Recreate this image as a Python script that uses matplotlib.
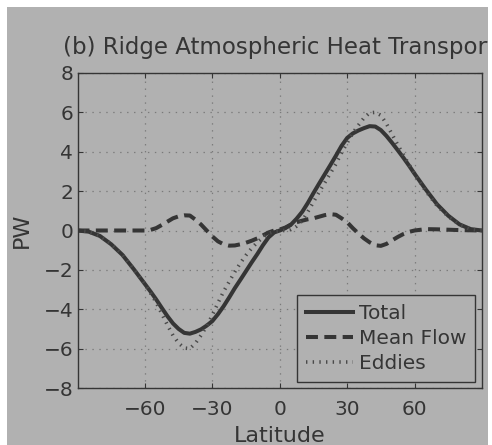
import matplotlib
matplotlib.use("Agg")
import matplotlib.pyplot as plt
from matplotlib.patches import Rectangle

# latitude (deg) and heat transport (PW)
lat = [-90, -85, -80, -75, -70, -65,
       -60, -57.5, -55, -52.5, -50, -47.5, -45, -42.5, -40, -37.5, -35, -32.5, -30, -27.5,
       -25, -22.5, -20, -17.5, -15, -12.5, -10, -7.5, -5, -2.5, 0,
       2.5, 5, 7.5, 10, 12.5, 15, 17.5, 20, 22.5, 25, 27.5, 30, 32.5, 35, 37.5,
       40, 42.5, 45, 47.5, 50, 52.5, 55, 57.5, 60,
       65, 70, 75, 80, 85, 90]

total = [0.0, -0.06, -0.28, -0.7, -1.24, -1.96,
         -2.72, -3.1, -3.5, -3.93, -4.35, -4.72, -5.0, -5.2, -5.24, -5.15, -5.02, -4.83, -4.6, -4.25,
         -3.85, -3.4, -2.93, -2.5, -2.06, -1.62, -1.2, -0.75, -0.35, -0.1, 0.0,
         0.12, 0.3, 0.6, 0.95, 1.4, 1.9, 2.38, 2.85, 3.32, 3.8, 4.3, 4.7, 4.93, 5.08, 5.2,
         5.3, 5.28, 5.1, 4.8, 4.45, 4.08, 3.7, 3.3, 2.88,
         2.08, 1.33, 0.75, 0.31, 0.07, 0.0]

mean_flow = [0.0, 0.0, 0.0, 0.0, 0.0, 0.0,
             0.0, 0.03, 0.12, 0.28, 0.45, 0.62, 0.72, 0.77, 0.76, 0.55, 0.3, 0.0, -0.3, -0.55,
             -0.7, -0.77, -0.76, -0.7, -0.62, -0.52, -0.4, -0.25, -0.1, 0.0, 0.05,
             0.15, 0.3, 0.42, 0.5, 0.57, 0.62, 0.7, 0.78, 0.83, 0.8, 0.62, 0.42, 0.12, -0.15, -0.4,
             -0.6, -0.75, -0.78, -0.68, -0.5, -0.33, -0.18, -0.07, 0.0,
             0.07, 0.06, 0.04, 0.02, 0.01, 0.0]

eddies = [0.0, -0.06, -0.28, -0.7, -1.24, -1.96,
          -2.72, -3.18, -3.65, -4.22, -4.8, -5.33, -5.72, -5.97, -6.0, -5.72, -5.32, -4.85, -4.3, -3.68,
          -3.1, -2.6, -2.1, -1.65, -1.25, -0.9, -0.6, -0.35, -0.15, -0.05, 0.0,
          0.0, 0.05, 0.22, 0.5, 0.95, 1.45, 1.95, 2.42, 2.9, 3.38, 3.95, 4.45, 4.95, 5.35, 5.72,
          5.98, 6.0, 5.85, 5.42, 4.88, 4.35, 3.85, 3.35, 2.88,
          2.0, 1.26, 0.71, 0.29, 0.06, 0.0]

xticks = [-60, -30, 0, 30, 60]
yticks = [-8, -6, -4, -2, 0, 2, 4, 6, 8]

BG = "#b1b1b1"
INK = "#353535"

plt.rcParams["font.family"] = ["DejaVu Sans"]
plt.rcParams["lines.scale_dashes"] = False

fig = plt.figure(figsize=(4.92, 4.45), dpi=100, facecolor="white")
# scanned page look: grey panel with white margins
fig.add_artist(Rectangle((7 / 492, 0), 481 / 492, 438 / 445, transform=fig.transFigure,
                         facecolor=BG, edgecolor="none", zorder=-1))

ax = fig.add_axes([77.5 / 492, 57 / 445, 404.5 / 492, 315 / 445])
ax.set_facecolor(BG)

ax.plot(lat, total, color=INK, linewidth=2.9, label="Total", solid_joinstyle="round")
ax.plot(lat, mean_flow, color=INK, linewidth=2.9, dashes=(8.6, 4.6), dash_capstyle="butt",
        label="Mean Flow")
ax.plot(lat, eddies, color="#4a4a4a", linewidth=2.6, dashes=(1.0, 3.8), dash_capstyle="butt",
        label="Eddies")

ax.set_xlim(-90, 90)
ax.set_ylim(-8, 8)
ax.set_xticks(xticks)
ax.set_yticks(yticks)
ax.grid(True, linestyle=(0, (1, 4)), color="#7a7a7a", linewidth=0.9)
ax.tick_params(axis="both", direction="in", length=3.5, width=0.8, color=INK,
               labelsize=14.5, labelcolor=INK, top=True, right=True)
ax.tick_params(axis="x", pad=8.5)
ax.tick_params(axis="y", pad=3)
for s in ax.spines.values():
    s.set_color(INK)
    s.set_linewidth(1.0)

ax.set_title("(b) Ridge Atmospheric Heat Transport", fontsize=16.5, color=INK, pad=13.7)
ax.set_xlabel("Latitude", fontsize=16, color=INK)
ax.xaxis.set_label_coords(0.5, -0.12)
ax.set_ylabel("PW", fontsize=16, color=INK)
ax.yaxis.set_label_coords(-0.112, 0.5)

leg = ax.legend(loc="lower right", bbox_to_anchor=(0.983, 0.019), fontsize=14.5,
                frameon=True, fancybox=False, handlelength=2.3, handletextpad=0.3,
                borderpad=0.45, labelspacing=0.3, borderaxespad=0.0)
leg.get_frame().set_facecolor(BG)
leg.get_frame().set_edgecolor(INK)
leg.get_frame().set_linewidth(1.0)
leg.get_frame().set_alpha(1.0)
for t in leg.get_texts():
    t.set_color(INK)

# clip the title at the panel's right edge like the cropped scan
fig.add_artist(Rectangle((488 / 492, 0), 4 / 492, 1, transform=fig.transFigure,
                         facecolor="white", edgecolor="none", zorder=10))

fig.savefig("out.png", dpi=100, facecolor="white")
